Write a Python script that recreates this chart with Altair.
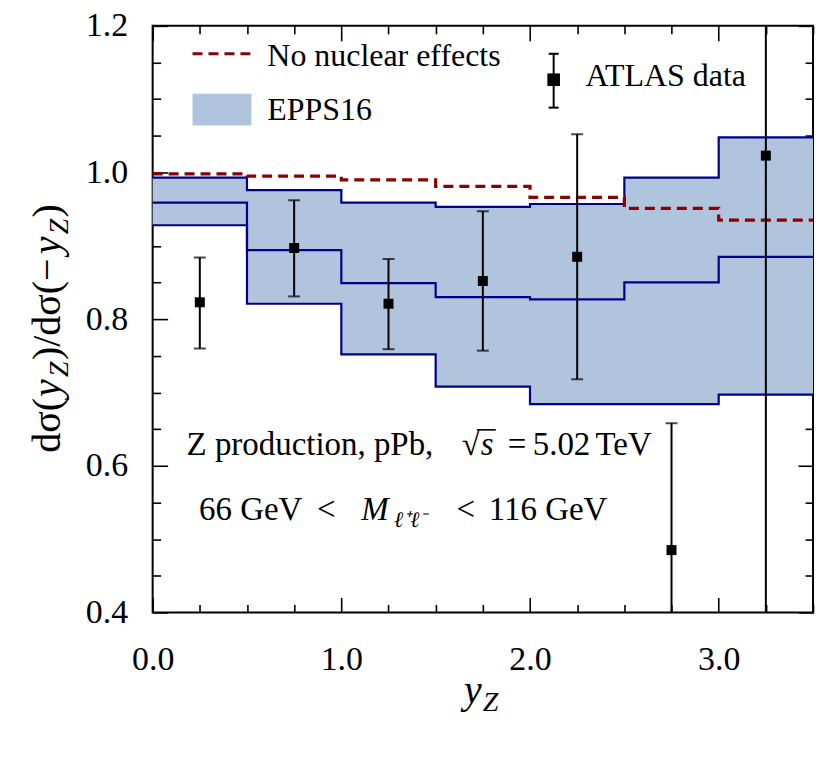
import altair as alt
import pandas as pd

# ---------------- data ----------------
bin_edges = [0.0, 0.5, 1.0, 1.5, 2.0, 2.5, 3.0, 3.5]
no_nuclear = [0.998, 0.995, 0.990, 0.981, 0.966, 0.951, 0.935]
epps_upper = [0.993, 0.976, 0.959, 0.953, 0.957, 0.993, 1.048]
epps_central = [0.959, 0.894, 0.849, 0.830, 0.827, 0.850, 0.885]
epps_lower = [0.928, 0.821, 0.752, 0.708, 0.684, 0.684, 0.697]

atlas_x = [0.25, 0.75, 1.25, 1.75, 2.25, 2.75, 3.25]
atlas_y = [0.823, 0.897, 0.821, 0.852, 0.885, 0.485, 1.023]
atlas_lo = [0.760, 0.831, 0.759, 0.757, 0.718, 0.312, 0.100]
atlas_hi = [0.884, 0.962, 0.882, 0.947, 1.052, 0.658, 1.950]

x_tick_values = [0.0, 0.25, 0.5, 0.75, 1.0, 1.25, 1.5, 1.75, 2.0, 2.25, 2.5, 2.75, 3.0, 3.25, 3.5]
y_tick_values = [0.4, 0.45, 0.5, 0.55, 0.6, 0.65, 0.7, 0.75, 0.8, 0.85, 0.9, 0.95,
                 1.0, 1.05, 1.1, 1.15, 1.2]

legend_labels = ["No nuclear effects", "EPPS16", "ATLAS data"]
note_line1 = ["Z production, pPb,", "\u221a", "s", "=", "5.02", "TeV"]
note_line2 = ["66 GeV", "<", "M", "\u2113\u207a\u2113\u207b", "<", "116 GeV"]

# ---------------- layout / style ----------------
W, H = 662, 588
FONT = "Liberation Serif"
NAVY = "#00008b"
RED = "#8b0000"
FILL = "#b0c4de"

def extend(v):
    return list(v) + [v[-1]]

steps = pd.DataFrame({
    "x": bin_edges,
    "nonuc": extend(no_nuclear),
    "upper": extend(epps_upper),
    "central": extend(epps_central),
    "lower": extend(epps_lower),
})
pts = pd.DataFrame({"x": atlas_x, "y": atlas_y, "lo": atlas_lo, "hi": atlas_hi})
one = pd.DataFrame({"a": [0]})

xs = alt.Scale(domain=[0, 3.5], nice=False, zero=False)
ys = alt.Scale(domain=[0.4, 1.2], nice=False, zero=False)

x_major = "abs(datum.value - round(datum.value)) < 0.001"
y_major = "abs(datum.value * 5 - round(datum.value * 5)) < 0.001"

def tick_axis(orient, offset, values, major_test):
    return alt.Axis(orient=orient, offset=offset, values=values, labels=False,
                    domain=False, grid=False, title=None,
                    tickSize={"condition": {"test": major_test, "value": 15}, "value": 8},
                    tickWidth=1.6, tickColor="black")

x_label_axis = alt.Axis(orient="bottom", values=x_tick_values, ticks=False, tickSize=0,
                        domain=False, grid=False, title=None, labelPadding=30,
                        labelFlush=False, labelOverlap=False,
                        labelExpr=f"{x_major} ? format(datum.value, '.1f') : ''",
                        labelFont=FONT, labelFontSize=34, labelColor="black")
y_label_axis = alt.Axis(orient="left", values=y_tick_values, ticks=False, tickSize=0,
                        domain=False, grid=False, title=None, labelPadding=25,
                        labelFlush=False, labelOverlap=False,
                        labelExpr=f"{y_major} ? format(datum.value, '.1f') : ''",
                        labelFont=FONT, labelFontSize=34, labelColor="black")

band = alt.Chart(steps).mark_area(interpolate="step-after", color=FILL, opacity=1).encode(
    x=alt.X("x:Q", scale=xs, axis=x_label_axis),
    y=alt.Y("lower:Q", scale=ys, axis=y_label_axis),
    y2="upper:Q",
)

line_upper = alt.Chart(steps).mark_line(interpolate="step-after", color=NAVY, strokeWidth=2.2).encode(
    x=alt.X("x:Q", scale=xs, axis=tick_axis("top", -H, x_tick_values, x_major)),
    y=alt.Y("upper:Q", scale=ys, axis=tick_axis("right", -W, y_tick_values, y_major)),
)
line_central = alt.Chart(steps).mark_line(interpolate="step-after", color=NAVY, strokeWidth=2.2).encode(
    x=alt.X("x:Q", scale=xs, axis=tick_axis("bottom", -H, x_tick_values, x_major)),
    y=alt.Y("central:Q", scale=ys, axis=tick_axis("left", -W, y_tick_values, y_major)),
)
line_lower = alt.Chart(steps).mark_line(interpolate="step-after", color=NAVY, strokeWidth=2.2).encode(
    x=alt.X("x:Q", scale=xs, axis=None),
    y=alt.Y("lower:Q", scale=ys, axis=None),
)
line_nonuc = alt.Chart(steps).mark_line(interpolate="step-after", color=RED, strokeWidth=3.2,
                                        strokeDash=[10, 6]).encode(
    x=alt.X("x:Q", scale=xs, axis=None),
    y=alt.Y("nonuc:Q", scale=ys, axis=None),
)

err = alt.Chart(pts).mark_rule(color="black", strokeWidth=2, clip=True).encode(
    x=alt.X("x:Q", scale=xs, axis=None),
    y=alt.Y("lo:Q", scale=ys, axis=None),
    y2="hi:Q",
)
cap_lo = alt.Chart(pts).mark_tick(color="black", orient="horizontal", size=12, thickness=2,
                                  clip=True).encode(
    x=alt.X("x:Q", scale=xs, axis=None),
    y=alt.Y("lo:Q", scale=ys, axis=None),
)
cap_hi = alt.Chart(pts).mark_tick(color="black", orient="horizontal", size=12, thickness=2,
                                  clip=True).encode(
    x=alt.X("x:Q", scale=xs, axis=None),
    y=alt.Y("hi:Q", scale=ys, axis=None),
)
squares = alt.Chart(pts).mark_square(color="black", size=100, opacity=1).encode(
    x=alt.X("x:Q", scale=xs, axis=None),
    y=alt.Y("y:Q", scale=ys, axis=None),
)

# ---------------- legend ----------------
def txt(text, x, y, size=32, style="normal", align="left", baseline="middle", angle=0):
    kw = dict(text=text, font=FONT, fontSize=size, fontStyle=style, align=align,
              baseline=baseline, color="black")
    if angle:
        kw["angle"] = angle
    return alt.Chart(one).mark_text(**kw).encode(x=alt.value(x), y=alt.value(y))

leg_line = alt.Chart(one).mark_rule(color=RED, strokeWidth=3.2, strokeDash=[10, 6]).encode(
    x=alt.value(40), x2=alt.value(99), y=alt.value(28))
leg_patch = alt.Chart(one).mark_rect(color=FILL).encode(
    x=alt.value(40), x2=alt.value(99), y=alt.value(68), y2=alt.value(100))
leg_err = alt.Chart(one).mark_rule(color="black", strokeWidth=2).encode(
    x=alt.value(402), y=alt.value(28), y2=alt.value(82))
leg_cap1 = alt.Chart(one).mark_rule(color="black", strokeWidth=2).encode(
    x=alt.value(397), x2=alt.value(407), y=alt.value(28))
leg_cap2 = alt.Chart(one).mark_rule(color="black", strokeWidth=2).encode(
    x=alt.value(397), x2=alt.value(407), y=alt.value(82))
leg_sq = alt.Chart(one).mark_square(color="black", size=160, opacity=1).encode(
    x=alt.value(402), y=alt.value(54))

legend = [
    leg_patch, leg_line, leg_err, leg_cap1, leg_cap2, leg_sq,
    txt(legend_labels[0], 115, 30),
    txt(legend_labels[1], 115, 84),
    txt(legend_labels[2], 434, 50),
]

# ---------------- annotations (pieces, plot-relative pixels) ----------------
NS = 33
B1, B2 = 430, 495
notes = [
    txt(note_line1[0], 34, B1, size=NS, baseline="alphabetic"),
    txt(note_line1[1], 328, B1, size=NS, align="right", baseline="alphabetic"),
    txt(note_line1[2], 329, B1, size=NS, style="italic", baseline="alphabetic"),
    alt.Chart(one).mark_rule(color="black", strokeWidth=1.6).encode(
        x=alt.value(325), x2=alt.value(344), y=alt.value(405)),
    txt(note_line1[3], 356, B1, size=NS, baseline="alphabetic"),
    txt(note_line1[4], 381, B1, size=NS, baseline="alphabetic"),
    txt(note_line1[5], 444, B1, size=NS, baseline="alphabetic"),
    txt(note_line2[0], 150, B2, size=NS, align="right", baseline="alphabetic"),
    txt(note_line2[1], 174, B2, size=NS, align="center", baseline="alphabetic"),
    txt(note_line2[2], 209, B2, size=NS, style="italic", baseline="alphabetic"),
    txt(note_line2[3], 242, B2 + 7, size=22, style="italic", baseline="alphabetic"),
    txt(note_line2[4], 314, B2, size=NS, align="center", baseline="alphabetic"),
    txt(note_line2[5], 337, B2, size=NS, baseline="alphabetic"),
]

# ---------------- axis titles (math pieces) ----------------
TS = 40
y_title_pieces = [
    ("d\u03c3(", "normal", TS, 0, 56),
    ("y", "italic", TS, 0, 20),
    ("Z", "italic", 28, 8, 17),
    (")/d\u03c3(\u2212", "normal", TS, 0, 106),
    ("y", "italic", TS, 0, 20),
    ("Z", "italic", 28, 8, 17),
    (")", "normal", TS, 0, 13),
]
titles = []
ypos = 428
TX = -93
for t, st, sz, sh, w in y_title_pieces:
    titles.append(txt(t, TX + sh, ypos, size=sz, style=st, baseline="alphabetic", angle=270))
    ypos -= w

titles.append(txt("y", 312, 679, size=TS, style="italic", baseline="alphabetic"))
titles.append(txt("Z", 331, 687, size=28, style="italic", baseline="alphabetic"))

chart = alt.layer(
    band, line_upper, line_central, line_lower, line_nonuc,
    err, cap_lo, cap_hi, squares, *legend, *notes, *titles,
).resolve_axis(x="independent", y="independent").properties(
    width=W, height=H,
    autosize=alt.AutoSizeParams(type="none"),
    padding={"left": 145, "top": 17, "right": 10, "bottom": 120},
    background="white",
).configure_view(stroke="black", strokeWidth=2)

chart.save("out.html", embed_options={"renderer": "svg", "actions": False})
